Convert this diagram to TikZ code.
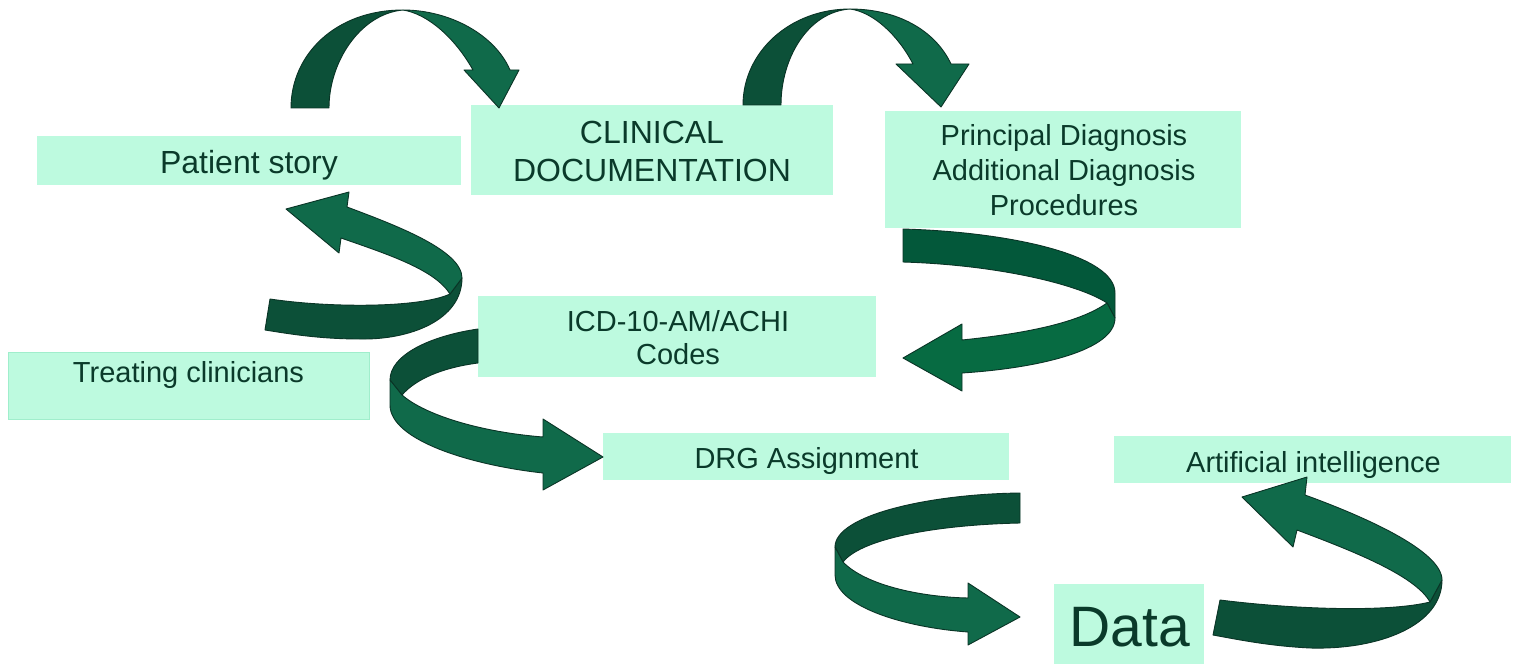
\documentclass[tikz,border=0pt]{standalone}
\usepackage{fontspec}
\setmainfont{Liberation Sans}
\definecolor{boxfill}{RGB}{189,250,223}
\definecolor{boxedge}{RGB}{160,238,204}
\definecolor{txt}{RGB}{10,58,42}
\definecolor{rdark}{RGB}{12,80,56}
\definecolor{rlight}{RGB}{16,106,74}
\definecolor{rdarkB}{RGB}{3,88,58}
\definecolor{rlightB}{RGB}{7,107,66}
\definecolor{redge}{RGB}{10,52,38}
\tikzset{
  box/.style={fill=boxfill, draw=none, inner sep=0pt},
  lbl/.style={inner sep=0pt, text=txt, align=center, font=\fontsize{29}{35}\selectfont},
  rdk/.style={fill=rdark, draw=redge, line width=0.9pt, line join=round},
  rlt/.style={fill=rlight, draw=redge, line width=0.9pt, line join=round},
  rdkB/.style={fill=rdarkB, draw=redge, line width=0.9pt, line join=round},
  rltB/.style={fill=rlightB, draw=redge, line width=0.9pt, line join=round},
}
\begin{document}
\begin{tikzpicture}[x=1pt,y=-1pt]
\useasboundingbox[fill=white] (0,0) rectangle (1520,666);

% boxes
\node[box, minimum width=424, minimum height=49] (patient) at (249,160.5) {};
\node[box, minimum width=362, minimum height=90] (clinical) at (652,150) {};
\node[box, minimum width=356, minimum height=117] (principal) at (1063,169.5) {};
\node[box, draw=boxedge, line width=1pt, minimum width=361, minimum height=67] (treating) at (188.5,385.5) {};
\node[box, minimum width=398, minimum height=81] (icd) at (677,336) {};
\node[box, minimum width=406, minimum height=47] (drg) at (806,456.5) {};
\node[box, minimum width=397, minimum height=47] (ai) at (1312.5,459.5) {};
\node[box, minimum width=150, minimum height=80] (data) at (1129,624) {};

% texts
\node[lbl, font=\fontsize{32}{38}\selectfont] (patienttxt) at (249,165) {Patient story};
\node[lbl, font=\fontsize{32}{38}\selectfont] (clinicaltxt) at (652,151) {CLINICAL\\DOCUMENTATION};
\node[lbl] (principaltxt) at (1064,170.5) {Principal Diagnosis\\Additional Diagnosis\\Procedures};
\node[lbl] (treatingtxt) at (188.5,375) {Treating clinicians};
\node[lbl, font=\fontsize{29}{33}\selectfont] (icdtxt) at (678,338) {ICD-10-AM/ACHI\\Codes};
\node[lbl] (drgtxt) at (806.5,460.5) {DRG Assignment};
\node[lbl] (aitxt) at (1313.5,464.5) {Artificial intelligence};
\node[lbl, font=\fontsize{57}{60}\selectfont] (datatxt) at (1130,627) {Data};

% A1: patient story -> clinical documentation
\filldraw[rdk] (291,108) .. controls (291,55) and (335,10) .. (403,10)
  .. controls (360,14) and (329,62) .. (329,108) -- cycle;
\filldraw[rlt] (403,10) .. controls (450,10) and (495,35) .. (510,70) -- (519,70) -- (499,108)
  -- (464,70) -- (473,70) .. controls (455,38) and (428,14) .. (403,10) -- cycle;

% A2: clinical documentation -> principal diagnosis
\filldraw[rdk] (743,105) .. controls (743,52) and (790,9) .. (850,9)
  .. controls (808,12) and (781,58) .. (781,105) -- cycle;
\filldraw[rlt] (850,9) .. controls (897,9) and (935,30) .. (951,64) -- (969,64) -- (941,107)
  -- (896,64) -- (913,64) .. controls (898,35) and (873,12) .. (850,9) -- cycle;

% A3: treating clinicians -> patient story
\filldraw[rdk] (270,299) .. controls (330,308) and (420,308) .. (450,294) -- (462,278)
  .. controls (462,320) and (410,340) .. (360,339) .. controls (320,339) and (290,334) .. (265,330) -- cycle;
\filldraw[rlt] (347,207) .. controls (395,225) and (462,250) .. (462,278) -- (450,294)
  .. controls (435,270) and (390,255) .. (341,238) -- (339,253) -- (286,209) -- (349,192) -- cycle;

% A4: principal diagnosis -> ICD codes
\filldraw[rdkB] (903,229) .. controls (1010,232) and (1115,255) .. (1115,293) -- (1115,318) -- (1107,303)
  .. controls (1080,285) and (1000,265) .. (903,262) -- cycle;
\filldraw[rltB] (1107,303) .. controls (1080,322) and (1030,333) .. (962,340) -- (962,324) -- (903,358)
  -- (962,391) -- (962,373) .. controls (1040,368) and (1115,350) .. (1115,318) -- cycle;

% A5: ICD codes -> DRG assignment
\filldraw[rdk] (478,329) .. controls (430,336) and (390,355) .. (390,380) -- (402,395)
  .. controls (415,380) and (440,368) .. (478,363) -- cycle;
\filldraw[rlt] (390,380) -- (402,395) .. controls (425,415) and (480,432) .. (543,437) -- (543,419)
  -- (603,457) -- (543,490) -- (543,473) .. controls (470,465) and (390,440) .. (390,405) -- cycle;

% A6: DRG assignment -> data
\filldraw[rdk] (1020,493) .. controls (930,494) and (835,515) .. (835,547) -- (843,562)
  .. controls (860,540) and (930,525) .. (1020,523) -- cycle;
\filldraw[rlt] (835,547) -- (843,562) .. controls (865,585) and (920,597) .. (968,598) -- (968,583)
  -- (1020,617) -- (968,645) -- (968,632) .. controls (900,627) and (835,605) .. (835,575) -- cycle;

% A7: data -> artificial intelligence
\filldraw[rdk] (1220,600) .. controls (1300,610) and (1390,612) .. (1430,602) -- (1442,580)
  .. controls (1442,625) and (1380,650) .. (1310,648) .. controls (1270,646) and (1240,640) .. (1213,635) -- cycle;
\filldraw[rlt] (1305,495) .. controls (1360,515) and (1442,550) .. (1442,580) -- (1430,602)
  .. controls (1415,575) and (1350,550) .. (1297,530) -- (1293,547) -- (1242,497) -- (1307,477) -- cycle;
\end{tikzpicture}
\end{document}
